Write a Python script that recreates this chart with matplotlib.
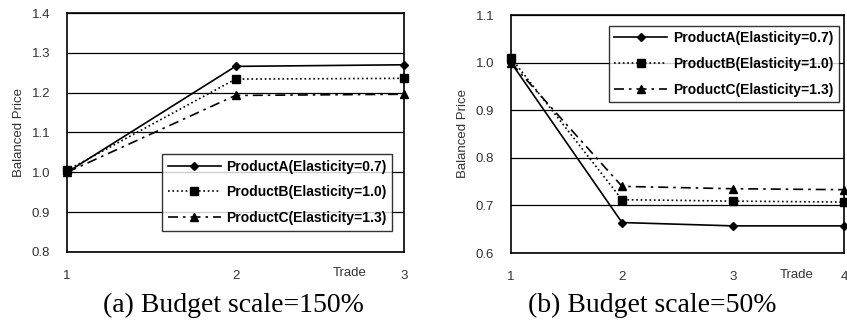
import matplotlib.pyplot as plt

# data
trade_a = [1, 2, 3]
a_150 = [1.00, 1.266, 1.270]
b_150 = [1.005, 1.234, 1.236]
c_150 = [1.00, 1.193, 1.196]

trade_b = [1, 2, 3, 4]
a_50 = [1.00, 0.664, 0.657, 0.657]
b_50 = [1.01, 0.712, 0.709, 0.707]
c_50 = [1.00, 0.740, 0.735, 0.733]

names = ["ProductA(Elasticity=0.7)", "ProductB(Elasticity=1.0)", "ProductC(Elasticity=1.3)"]
sans = ['Liberation Sans', 'DejaVu Sans']

fig = plt.figure(figsize=(8.47, 3.24), dpi=100)
ax1 = fig.add_axes([67 / 847, 1 - 252 / 324, 337 / 847, 239 / 324])
ax2 = fig.add_axes([511 / 847, 1 - 253 / 324, 333 / 847, 238 / 324])


def draw(ax, x, ys, ylim, yticks, loc, anchor):
    styles = [('-', 'D', 4), (':', 's', 6), ((0, (6, 3, 1.5, 3)), '^', 6)]
    for y, (ls, m, ms), name in zip(ys, styles, names):
        ax.plot(x, y, color='black', linestyle=ls, marker=m, markersize=ms,
                linewidth=1.2, label=name, clip_on=False)
    ax.set_xlim(x[0], x[-1])
    ax.set_ylim(*ylim)
    ax.set_yticks(yticks)
    ax.set_yticklabels(['%.1f' % t for t in yticks], family=sans, fontsize=9.5, color='#333333')
    ax.set_xticks(x)
    ax.set_xticklabels([str(v) for v in x], family=sans, fontsize=9.5, color='#333333')
    ax.tick_params(axis='both', length=0)
    ax.tick_params(axis='x', pad=13)
    ax.tick_params(axis='y', pad=12)
    ax.yaxis.grid(True, color='black', linewidth=0.9)
    for s in ax.spines.values():
        s.set_linewidth(1.2)
    ax.set_ylabel("Balanced Price", family=sans, fontsize=9.5, labelpad=5, color='#333333')
    leg = ax.legend(loc=loc, bbox_to_anchor=anchor, frameon=True, fancybox=False,
                    edgecolor='black', handlelength=3.8, borderpad=0.4,
                    labelspacing=0.85, handletextpad=0.4,
                    prop={'family': sans, 'size': 10, 'weight': 'bold'})
    leg.get_frame().set_linewidth(1.0)


draw(ax1, trade_a, [a_150, b_150, c_150], (0.8, 1.4),
     [0.8, 0.9, 1.0, 1.1, 1.2, 1.3, 1.4], 'lower right', (0.985, 0.06))
draw(ax2, trade_b, [a_50, b_50, c_50], (0.6, 1.1),
     [0.6, 0.7, 0.8, 0.9, 1.0, 1.1], 'upper right', (1.005, 0.985))

fig.text(350 / 847, 1 - 273 / 324, "Trade", family=sans, fontsize=9.5, ha='center', va='center', color='#333333')
fig.text(797 / 847, 1 - 275 / 324, "Trade", family=sans, fontsize=9.5, ha='center', va='center', color='#333333')

fig.text(233 / 847, 1 - 305 / 324, "(a) Budget scale=150%", family='Liberation Serif',
         fontsize=20, ha='center', va='center')
fig.text(652 / 847, 1 - 305 / 324, "(b) Budget scale=50%", family='Liberation Serif',
         fontsize=20, ha='center', va='center')

plt.savefig('out.png', dpi=100)
